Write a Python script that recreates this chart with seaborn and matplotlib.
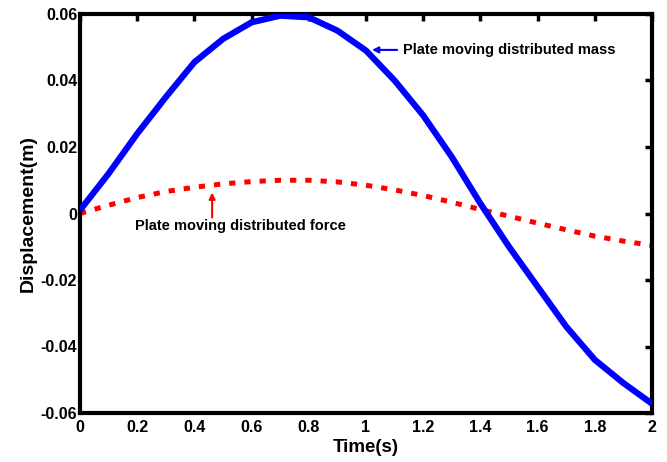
import matplotlib
matplotlib.use("Agg")
import matplotlib.pyplot as plt
import numpy as np
import pandas as pd
import seaborn as sns

# Time samples (s)
time_s = [0.0, 0.1, 0.2, 0.3, 0.4, 0.5, 0.6, 0.7, 0.8, 0.9, 1.0,
          1.1, 1.2, 1.3, 1.4, 1.5, 1.6, 1.7, 1.8, 1.9, 2.0]

# Mid-span displacement (m), moving distributed mass
disp_mass = [0.001, 0.012, 0.024, 0.035, 0.0455, 0.0525, 0.0575, 0.0595, 0.059,
             0.055, 0.049, 0.040, 0.0295, 0.017, 0.003, -0.010, -0.022, -0.034,
             -0.044, -0.051, -0.0572]

# Mid-span displacement (m), moving distributed force
disp_force = [0.0, 0.0025, 0.0048, 0.0066, 0.0079, 0.0089, 0.0096, 0.0100, 0.0100,
              0.0095, 0.0085, 0.0071, 0.0054, 0.0034, 0.0012, -0.0008, -0.0029,
              -0.0049, -0.0068, -0.0083, -0.0096]

x_ticks = [0, 0.2, 0.4, 0.6, 0.8, 1, 1.2, 1.4, 1.6, 1.8, 2]
x_tick_labels = ["0", "0.2", "0.4", "0.6", "0.8", "1", "1.2", "1.4", "1.6", "1.8", "2"]
y_ticks = [-0.06, -0.04, -0.02, 0, 0.02, 0.04, 0.06]
y_tick_labels = ["-0.06", "-0.04", "-0.02", "0", "0.02", "0.04", "0.06"]

sns.set_style("white")
plt.rcParams["font.family"] = ["Liberation Sans", "DejaVu Sans"]
plt.rcParams["font.weight"] = "bold"
plt.rcParams["text.color"] = "black"
plt.rcParams["axes.labelcolor"] = "black"
plt.rcParams["xtick.color"] = "black"
plt.rcParams["ytick.color"] = "black"

df = pd.DataFrame({"t": time_s, "mass": disp_mass, "force": disp_force})

fig = plt.figure(figsize=(6.67, 4.62), dpi=100)
ax = fig.add_axes([80 / 667, 1 - 413 / 462, (652 - 80) / 667, (413 - 14) / 462])

sns.lineplot(data=df, x="t", y="mass", ax=ax, color="#0000ff", linewidth=4.5,
             solid_capstyle="butt", zorder=3)
line_force = sns.lineplot(data=df, x="t", y="force", ax=ax, color="#ff0000",
                          linewidth=3.6, zorder=2).lines[-1]
line_force.set_dashes((1.25, 1.8))
line_force.set_dash_capstyle("butt")

ax.set_xlim(0, 2)
ax.set_ylim(-0.06, 0.06)
ax.set_xticks(x_ticks)
ax.set_xticklabels(x_tick_labels)
ax.set_yticks(y_ticks)
ax.set_yticklabels(y_tick_labels)

for side in ["left", "right", "top", "bottom"]:
    ax.spines[side].set_visible(True)
    ax.spines[side].set_linewidth(3.0)
    ax.spines[side].set_color("black")

ax.tick_params(direction="in", length=5, width=2.5, top=True, right=True,
               labelsize=11.5, colors="black")
ax.tick_params(axis="x", pad=5)
ax.tick_params(axis="y", pad=2)
for lbl in ax.get_xticklabels() + ax.get_yticklabels():
    lbl.set_fontweight("bold")

ax.set_xlabel("Time(s)", fontsize=13.5, fontweight="bold", labelpad=3,
              color="black")
ax.set_ylabel("Displacement(m)", fontsize=14, fontweight="bold", labelpad=3,
              color="black")

ax.annotate("Plate moving distributed mass", xy=(1.021, 0.0492),
            xytext=(1.13, 0.0492), fontsize=10.5, fontweight="bold",
            va="center", ha="left", color="black",
            arrowprops=dict(arrowstyle="-|>", color="#0000ff", lw=1.5,
                            mutation_scale=9, shrinkA=2, shrinkB=0))

ax.text(0.56, -0.0038, "Plate moving distributed force", fontsize=10.5,
        fontweight="bold", va="center", ha="center", color="black")
ax.annotate("", xy=(0.462, 0.0063), xytext=(0.462, -0.0012),
            arrowprops=dict(arrowstyle="-|>", color="#ff0000", lw=1.5,
                            mutation_scale=9, shrinkA=0, shrinkB=0))

fig.savefig("out.png", dpi=100)
